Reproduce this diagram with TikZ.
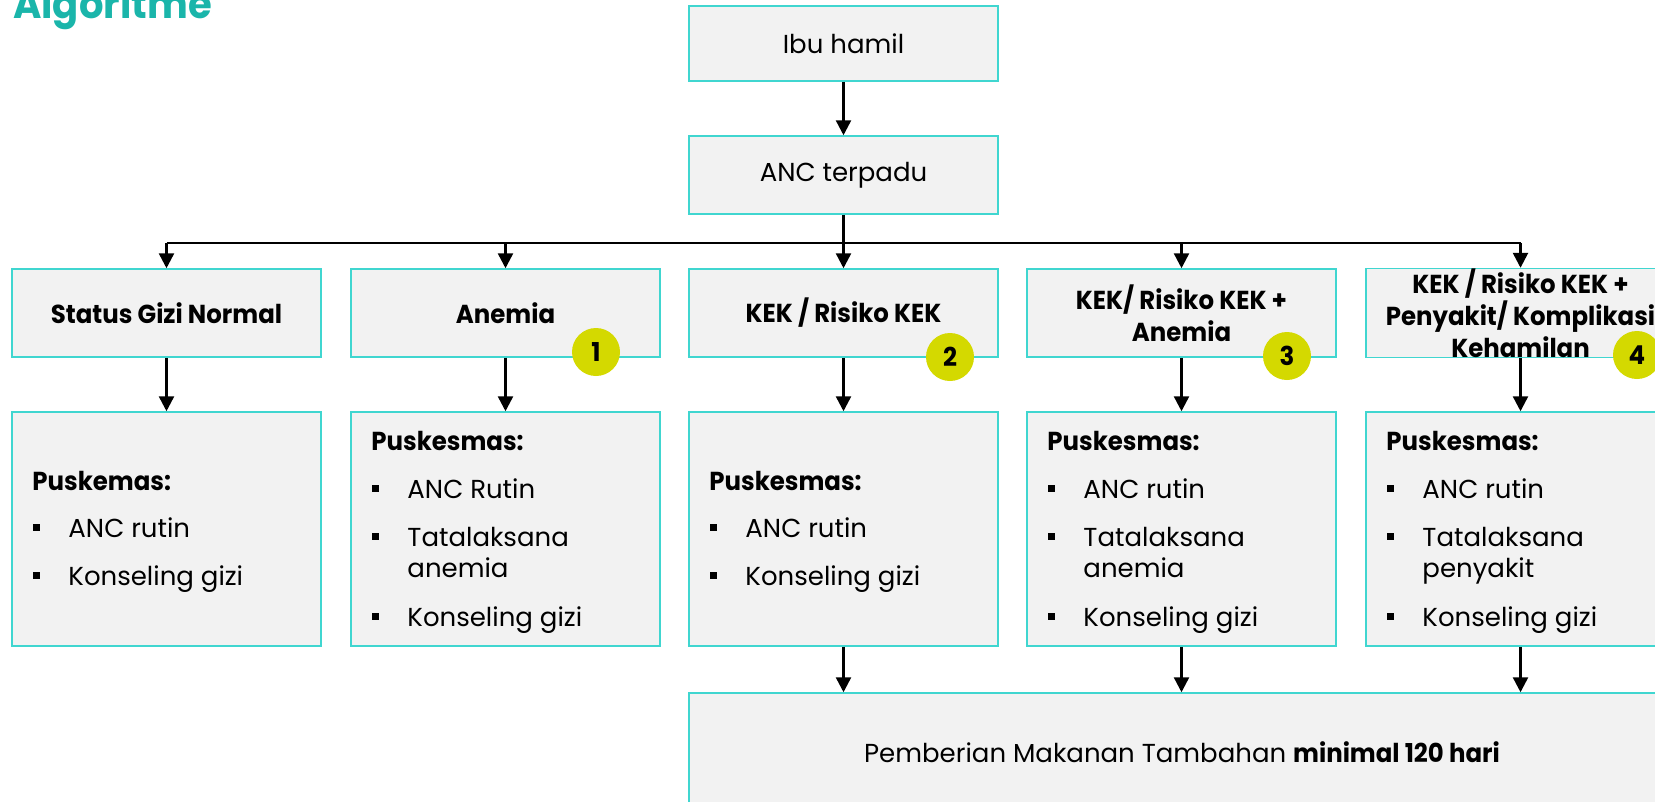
\documentclass[tikz,border=0pt]{standalone}
\usepackage{fontspec}
\setmainfont{Poppins}[BoldFeatures={FakeStretch=0.94}]
\usetikzlibrary{arrows.meta,calc}
\definecolor{bord}{RGB}{64,214,208}
\definecolor{boxfill}{RGB}{242,242,242}
\definecolor{badgec}{RGB}{212,217,0}
\definecolor{titlec}{RGB}{26,181,170}
\newcommand{\bul}{\rlap{\rule[6pt]{7pt}{7pt}}\hspace{35pt}}
\begin{document}
\begin{tikzpicture}[x=1pt,y=-1pt,
  box/.style={draw=bord,line width=1.5pt,fill=boxfill,minimum width=309pt,inner sep=0pt,align=center},
  hd/.style={box,minimum height=88pt,font=\bfseries\fontsize{26}{32}\selectfont},
  top/.style={box,font=\fontsize{26}{32}\selectfont},
  pk/.style={box,minimum height=234pt},
  txt/.style={anchor=base west,inner sep=0pt,font=\fontsize{26}{32}\selectfont},
  txb/.style={txt,font=\bfseries\fontsize{26}{32}\selectfont},
  arr/.style={line width=2.5pt,-{Triangle[width=15pt,length=15pt]}},
  ln/.style={line width=2.5pt},
  badge/.style={circle,fill=badgec,minimum size=48pt,inner sep=0pt,font=\bfseries\fontsize{26}{26}\selectfont}]
\useasboundingbox (0,0) rectangle (1655,801);
\clip (0,0) rectangle (1655,801);

\node[anchor=base west,inner sep=0pt,text=titlec,font=\bfseries\fontsize{41}{41}\selectfont] (title) at (13,18) {Algoritme};

\node[top,minimum height=75pt] (ibu) at (843.5,43.5) {Ibu hamil};
\node[top,minimum height=78pt] (anc) at (843.5,175) {ANC terpadu};

\node[hd] (s1) at (166.5,313) {Status Gizi Normal};
\node[hd] (s2) at (505.5,313) {Anemia};
\node[hd] (s3) at (843.5,313) {KEK / Risiko KEK};
\node[hd] (s4) at (1181.5,313) {KEK/ Risiko KEK +\\Anemia};
\node[hd] (s5) at (1520.5,313) {KEK / Risiko KEK +\\Penyakit/ Komplikasi\\Kehamilan};

\node[pk] (p1) at (166.5,529) {};
\node[pk] (p2) at (505.5,529) {};
\node[pk] (p3) at (843.5,529) {};
\node[pk] (p4) at (1181.5,529) {};
\node[pk] (p5) at (1520.5,529) {};

\node[box,minimum width=986pt,minimum height=118pt,font=\fontsize{26}{32}\selectfont] (pmt) at (1182,752) {Pemberian Makanan Tambahan \textbf{minimal 120 hari}};

% box 1 texts
\node[txb] (p1h) at ($(p1.north west)+(21,79)$) {Puskemas:};
\node[txt] (p1a) at ($(p1.north west)+(22,126)$) {\bul ANC rutin};
\node[txt] (p1b) at ($(p1.north west)+(22,174)$) {\bul Konseling gizi};
% box 2
\node[txb] (p2h) at ($(p2.north west)+(21,39)$) {Puskesmas:};
\node[txt] (p2a) at ($(p2.north west)+(22,87)$) {\bul ANC Rutin};
\node[txt] (p2b) at ($(p2.north west)+(22,135)$) {\bul Tatalaksana};
\node[txt] (p2c) at ($(p2.north west)+(57,166)$) {anemia};
\node[txt] (p2d) at ($(p2.north west)+(22,215)$) {\bul Konseling gizi};
% box 3
\node[txb] (p3h) at ($(p3.north west)+(21,79)$) {Puskesmas:};
\node[txt] (p3a) at ($(p3.north west)+(22,126)$) {\bul ANC rutin};
\node[txt] (p3b) at ($(p3.north west)+(22,174)$) {\bul Konseling gizi};
% box 4
\node[txb] (p4h) at ($(p4.north west)+(21,39)$) {Puskesmas:};
\node[txt] (p4a) at ($(p4.north west)+(22,87)$) {\bul ANC rutin};
\node[txt] (p4b) at ($(p4.north west)+(22,135)$) {\bul Tatalaksana};
\node[txt] (p4c) at ($(p4.north west)+(57,166)$) {anemia};
\node[txt] (p4d) at ($(p4.north west)+(22,215)$) {\bul Konseling gizi};
% box 5
\node[txb] (p5h) at ($(p5.north west)+(21,39)$) {Puskesmas:};
\node[txt] (p5a) at ($(p5.north west)+(22,87)$) {\bul ANC rutin};
\node[txt] (p5b) at ($(p5.north west)+(22,135)$) {\bul Tatalaksana};
\node[txt] (p5c) at ($(p5.north west)+(57,166)$) {penyakit};
\node[txt] (p5d) at ($(p5.north west)+(22,215)$) {\bul Konseling gizi};

% connectors
\draw[arr] (ibu.south) -- (anc.north);
\coordinate (hl) at (166.5,243);
\coordinate (hr) at (1520.5,243);
\draw[ln] (hl) -- (hr);
\draw[arr] (anc.south) -- (s3.north);
\draw[arr] (hl) -- (s1.north);
\draw[arr] (s2.north |- hl) -- (s2.north);
\draw[arr] (s4.north |- hl) -- (s4.north);
\draw[arr] (hr) -- (s5.north);
\foreach \i in {1,...,5}{\draw[arr] (s\i.south) -- (p\i.north);}
\foreach \i in {3,4,5}{\draw[arr] (p\i.south) -- (p\i.south |- pmt.north);}

% badges
\node[badge] (b1) at (596,352) {1};
\node[badge] (b2) at (950,357) {2};
\node[badge] (b3) at (1287,356) {3};
\node[badge] (b4) at (1637,355) {4};
\end{tikzpicture}
\end{document}
